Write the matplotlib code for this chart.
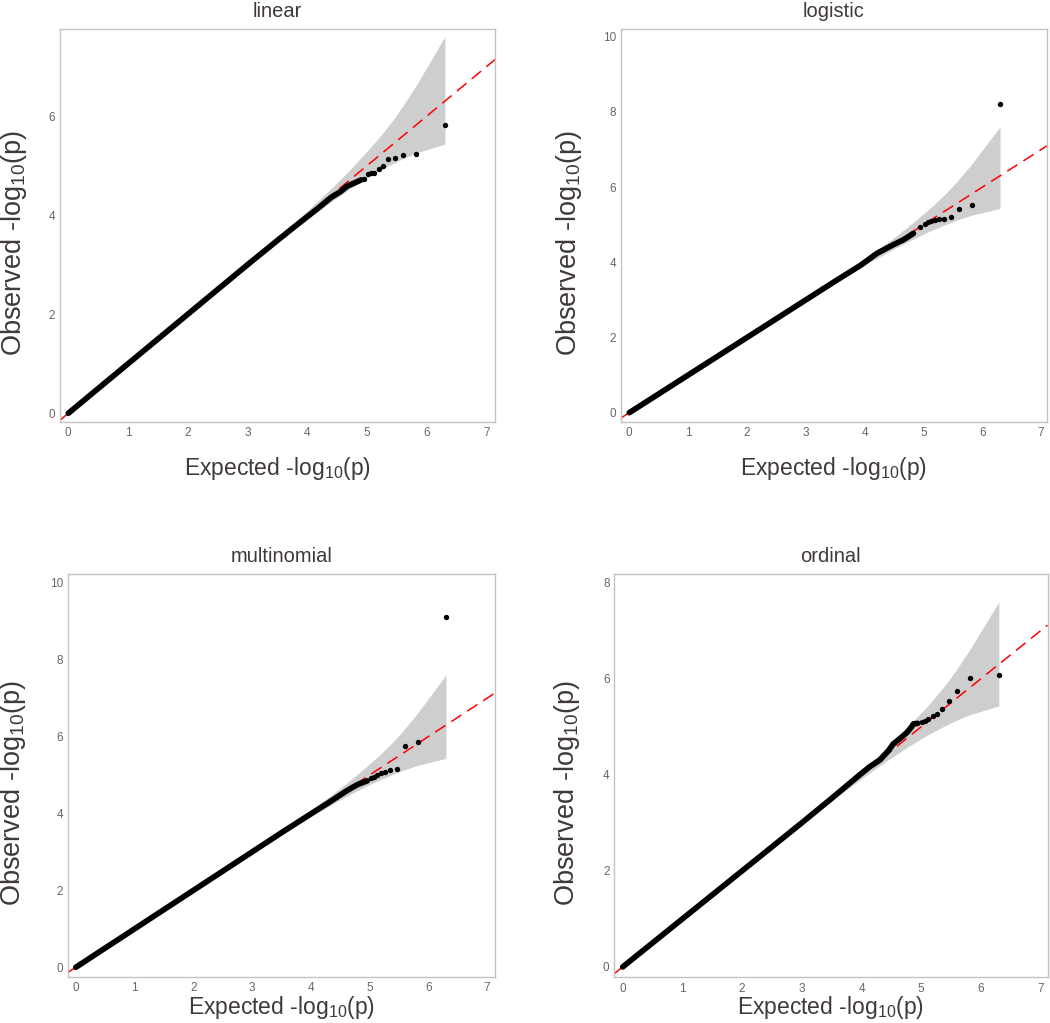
import matplotlib
matplotlib.use("Agg")
import matplotlib.pyplot as plt

plt.rcParams['font.family'] = ['Liberation Sans', 'DejaVu Sans']
plt.rcParams['mathtext.fontset'] = 'custom'
plt.rcParams['mathtext.rm'] = 'Liberation Sans'
plt.rcParams['mathtext.it'] = 'Liberation Sans:italic'
plt.rcParams['mathtext.bf'] = 'Liberation Sans:bold'

# ---------------- data ----------------
panel_titles = ["linear", "logistic", "multinomial", "ordinal"]
x_ticks = [0, 1, 2, 3, 4, 5, 6, 7]
y_ticks_linear = [0, 2, 4, 6]
y_ticks_logistic = [0, 2, 4, 6, 8, 10]
y_ticks_multinomial = [0, 2, 4, 6, 8, 10]
y_ticks_ordinal = [0, 2, 4, 6, 8]

# 95% confidence band (expected vs lower / upper observed)
band_x = [0.0, 1.0, 2.0, 3.0, 3.30, 3.70, 4.00, 4.305, 4.53, 4.71, 5.02, 5.19, 5.35, 5.46, 5.60, 5.82, 6.30]
band_lo = [0.0, 0.997, 1.992, 2.974, 3.264, 3.641, 3.919, 4.189, 4.380, 4.528, 4.768, 4.884, 4.990, 5.057, 5.141, 5.254, 5.433]
band_hi = [0.0, 1.003, 2.009, 3.027, 3.340, 3.761, 4.089, 4.431, 4.694, 4.913, 5.319, 5.551, 5.790, 5.963, 6.208, 6.616, 7.602]

# dense bulk of points (drawn as a thick trace) and individual tail points
linear_bulk_x = [0.0, 1.0, 2.0, 3.0, 3.5, 3.8, 4.0, 4.2, 4.4, 4.55, 4.66, 4.77, 4.90]
linear_bulk_y = [0.0, 1.0, 2.0, 3.0, 3.49, 3.78, 3.97, 4.16, 4.36, 4.47, 4.58, 4.64, 4.71]
linear_tail_x = [4.94, 5.02, 5.07, 5.12, 5.19, 5.26, 5.35, 5.46, 5.60, 5.82, 6.30]
linear_tail_y = [4.73, 4.83, 4.84, 4.85, 4.94, 5.00, 5.14, 5.15, 5.22, 5.24, 5.82]

logistic_bulk_x = [0.0, 1.0, 2.0, 3.0, 3.5, 3.93, 4.21, 4.49, 4.66, 4.83]
logistic_bulk_y = [0.0, 1.0, 2.0, 3.0, 3.5, 3.92, 4.24, 4.47, 4.60, 4.77]
logistic_tail_x = [4.94, 5.02, 5.07, 5.12, 5.19, 5.26, 5.35, 5.46, 5.60, 5.82, 6.30]
logistic_tail_y = [4.95, 5.03, 5.07, 5.10, 5.12, 5.16, 5.16, 5.21, 5.41, 5.52, 8.21]

multinomial_bulk_x = [0.0, 1.0, 2.0, 3.0, 3.5, 4.0, 4.3, 4.5, 4.62, 4.79, 4.96]
multinomial_bulk_y = [0.0, 1.0, 2.0, 3.0, 3.5, 3.99, 4.28, 4.48, 4.60, 4.75, 4.85]
multinomial_tail_x = [5.02, 5.07, 5.12, 5.19, 5.26, 5.35, 5.46, 5.60, 5.82, 6.30]
multinomial_tail_y = [4.93, 4.96, 5.00, 5.05, 5.07, 5.13, 5.16, 5.75, 5.85, 9.12]

ordinal_bulk_x = [0.0, 1.0, 2.0, 3.0, 3.5, 3.97, 4.14, 4.31, 4.45, 4.53, 4.65, 4.76, 4.84, 4.87, 4.94]
ordinal_bulk_y = [0.0, 1.0, 2.0, 3.0, 3.51, 4.00, 4.17, 4.31, 4.50, 4.64, 4.76, 4.88, 5.00, 5.06, 5.07]
ordinal_tail_x = [5.02, 5.07, 5.12, 5.19, 5.26, 5.35, 5.46, 5.60, 5.82, 6.30]
ordinal_tail_y = [5.10, 5.13, 5.16, 5.22, 5.26, 5.36, 5.54, 5.75, 6.02, 6.07]

# ---------------- layout ----------------
W, H = 1050, 1023
fig = plt.figure(figsize=(W / 100, H / 100), dpi=100)
fig.patch.set_facecolor("white")

panels = [
    dict(title=panel_titles[0], rect=(60, 495.3, 29.3, 421.7), xlim=(-0.139, 7.144), ylim=(-0.17, 7.75),
         yt=y_ticks_linear, bx=linear_bulk_x, by=linear_bulk_y, tx=linear_tail_x, ty=linear_tail_y,
         ylab_px=29, xlab_top=455),
    dict(title=panel_titles[1], rect=(621, 1047, 29.3, 421.7), xlim=(-0.141, 7.10), ylim=(-0.24, 10.2),
         yt=y_ticks_logistic, bx=logistic_bulk_x, by=logistic_bulk_y, tx=logistic_tail_x, ty=logistic_tail_y,
         ylab_px=584, xlab_top=455),
    dict(title=panel_titles[2], rect=(67.7, 495.3, 574, 976.7), xlim=(-0.138, 7.14), ylim=(-0.245, 10.23),
         yt=y_ticks_multinomial, bx=multinomial_bulk_x, by=multinomial_bulk_y, tx=multinomial_tail_x, ty=multinomial_tail_y,
         ylab_px=28, xlab_top=994),
    dict(title=panel_titles[3], rect=(614.3, 1047.5, 574, 977), xlim=(-0.141, 7.115), ylim=(-0.21, 8.18),
         yt=y_ticks_ordinal, bx=ordinal_bulk_x, by=ordinal_bulk_y, tx=ordinal_tail_x, ty=ordinal_tail_y,
         ylab_px=582, xlab_top=994),
]

title_color = "#3f383f"
tick_color = "#6a646a"
spine_color = "#c2c2c2"
band_color = "#cecece"

for p in panels:
    l, r, t, b = p["rect"]
    ax = fig.add_axes([l / W, 1 - b / H, (r - l) / W, (b - t) / H])
    ax.set_facecolor("white")
    ax.fill_between(band_x, band_lo, band_hi, color=band_color, linewidth=0, zorder=1)
    ax.axline((0, 0), (1, 1), color="#ff0000", linewidth=1.1, dashes=(8, 4.5), zorder=2)
    ax.plot(p["bx"], p["by"], color="black", linewidth=4.1, solid_capstyle="round",
            solid_joinstyle="round", zorder=3)
    ax.scatter(p["tx"], p["ty"], s=15, color="black", linewidths=0, zorder=4)
    ax.set_xlim(*p["xlim"])
    ax.set_ylim(*p["ylim"])
    ax.set_xticks(x_ticks)
    ax.set_yticks(p["yt"])
    ax.tick_params(axis="both", length=0, labelsize=8.5, labelcolor=tick_color)
    ax.tick_params(axis="x", pad=4.0)
    ax.tick_params(axis="y", pad=3.4)
    for s in ax.spines.values():
        s.set_color(spine_color)
        s.set_linewidth(1.0)
    ax.set_title(p["title"], fontsize=14.5, color=title_color, pad=8.9)
    ax.set_xlabel("Expected -log$_{10}$(p)", fontsize=16.5, color=title_color)
    ax.set_ylabel("Observed -log$_{10}$(p)", fontsize=19.5, color=title_color)
    hpx = b - t
    wpx = r - l
    ax.xaxis.set_label_coords(0.5, (b - p["xlab_top"]) / hpx)
    ax.yaxis.set_label_coords((p["ylab_px"] - l) / wpx, (b - ((t + b) / 2 + 18)) / hpx)

fig.savefig("out.png", dpi=100, facecolor="white")
